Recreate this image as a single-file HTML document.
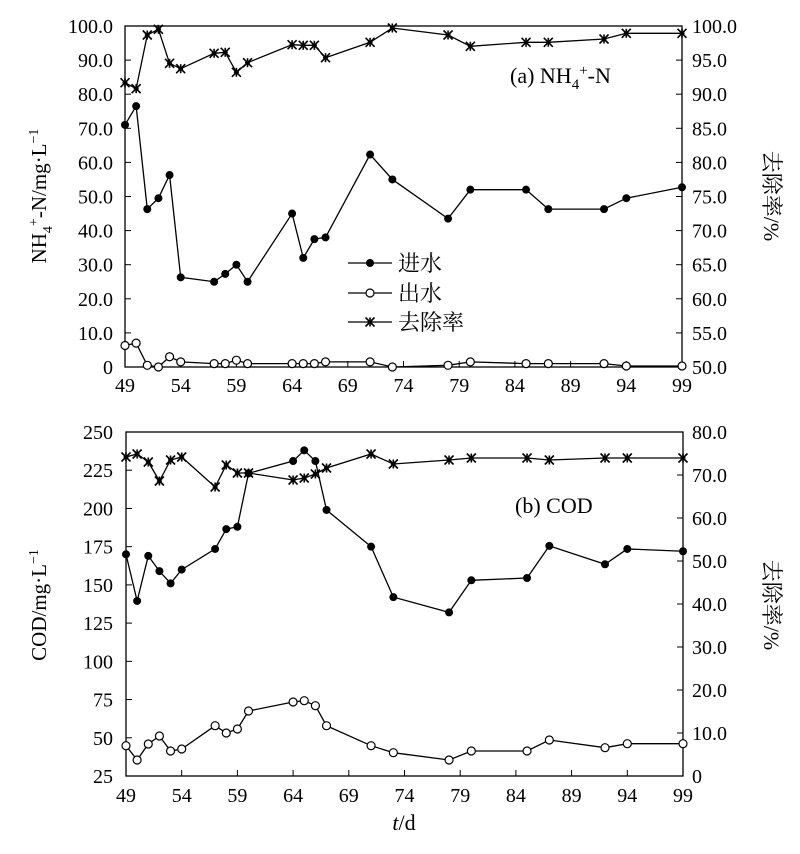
<!DOCTYPE html>
<html><head><meta charset="utf-8"><style>
html,body{margin:0;padding:0;background:#fff;}
</style></head><body>
<svg id="s" width="800" height="849" xmlns="http://www.w3.org/2000/svg" font-family="'Liberation Serif','Times New Roman','Noto Serif CJK SC',serif" style="font-family:'Liberation Serif','Times New Roman','Noto Serif CJK SC',serif"></svg>
<script>
const S=document.getElementById('s');let h='';
const days=[49,50,51,52,53,54,57,58,59,60,64,65,66,67,71,73,78,80,85,87,92,94,99];
function X(d,x0,x1){return x0+(x1-x0)*(d-49)/50;}
function poly(pts){return '<polyline fill="none" stroke="#000" stroke-width="1.3" points="'+pts.map(p=>p.join(',')).join(' ')+'"/>';}
function dot(x,y){return '<circle cx="'+x+'" cy="'+y+'" r="4" fill="#000"/>';}
function odot(x,y){return '<circle cx="'+x+'" cy="'+y+'" r="4" fill="#fff" stroke="#000" stroke-width="1.2"/>';}
function star(x,y){let r=4.5;return '<g stroke="#000" stroke-width="1.6"><line x1="'+(x-r)+'" y1="'+(y-r)+'" x2="'+(x+r)+'" y2="'+(y+r)+'"/><line x1="'+(x-r)+'" y1="'+(y+r)+'" x2="'+(x+r)+'" y2="'+(y-r)+'"/><line x1="'+(x-2.5)+'" y1="'+y+'" x2="'+(x+2.5)+'" y2="'+y+'"/><line x1="'+x+'" y1="'+(y-r)+'" x2="'+x+'" y2="'+(y+r)+'"/></g>';}
function series(xs,ys,mk){let pts=xs.map((x,i)=>[x,ys[i]]);let s=poly(pts);pts.forEach(p=>{s+=mk(p[0],p[1]);});return s;}
const F=' font-family="Liberation Serif, Times New Roman, Noto Serif CJK SC, serif"';
function T(x,y,sz,txt,extra){return '<text x="'+x+'" y="'+y+'" font-size="'+sz+'"'+F+(extra||'')+'>'+txt+'</text>';}
{const x0=125,x1=682,yt=26,yb=367;
h+='<rect x="'+x0+'" y="'+yt+'" width="'+(x1-x0)+'" height="'+(yb-yt)+'" fill="none" stroke="#000" stroke-width="1.3"/>';
for(let i=0;i<=10;i++){let y=yb-(yb-yt)*i/10;h+='<line x1="'+x0+'" y1="'+y+'" x2="'+(x0+6)+'" y2="'+y+'" stroke="#000"/><line x1="'+x1+'" y1="'+y+'" x2="'+(x1-6)+'" y2="'+y+'" stroke="#000"/>';
h+=T(113,y+7,20,(i==0?'0':(i*10).toFixed(1)),' text-anchor="end"');
h+=T(692,y+7,20,(50+i*5).toFixed(1));}
for(let d=49;d<=99;d+=5){let x=X(d,x0,x1);h+='<line x1="'+x+'" y1="'+yb+'" x2="'+x+'" y2="'+(yb-6)+'" stroke="#000"/>'+T(x,yb+25,20,d,' text-anchor="middle"');}
const xs=days.map(d=>X(d,x0,x1));const Y=v=>yb-(yb-yt)*v/100;
const inf=[71,76.5,46.3,49.5,56.3,26.3,25,27.3,30,25,45,32,37.5,38,62.3,55,43.5,52,52,46.3,46.3,49.5,52.7];
const eff=[6.3,7,0.5,0,3,1.5,1,1,2,1,1,1,1,1.5,1.5,0,0.5,1.5,1,1,1,0.3,0.3];
const rem=[82.7,88.7,35,29.3,63.3,68.7,53.3,52.3,72.3,62.7,44.7,45.3,45.3,57.7,42.3,28,35,46.3,42.3,42.3,39,33.3,33.3];
h+=series(xs,inf.map(Y),dot);h+=series(xs,eff.map(Y),odot);h+=series(xs,rem,star);
h+='<text x="510" y="83" font-size="22"'+F+'>(a)  NH<tspan font-size="15" dy="6">4</tspan><tspan font-size="15" dy="-14">+</tspan><tspan dy="8">-N</tspan></text>';
const L=[[263,'进水',dot],[293,'出水',odot],[322,'去除率',star]];
L.forEach(l=>{h+='<line x1="348" y1="'+l[0]+'" x2="392" y2="'+l[0]+'" stroke="#000" stroke-width="1.3"/>'+l[2](370,l[0])+T(398,l[0]+8,22,l[1]);});
h+='<text transform="translate(46,196) rotate(-90)" font-size="21" text-anchor="middle"'+F+'>NH<tspan font-size="14" dy="6">4</tspan><tspan font-size="14" dy="-14">+</tspan><tspan dy="8">-N/mg·L</tspan><tspan font-size="14" dy="-8">−1</tspan></text>';
h+='<text transform="translate(764,196) rotate(90)" font-size="22" text-anchor="middle"'+F+'>去除率/%</text>';}
{const x0=126,x1=683,yt=432,yb=776;
h+='<rect x="'+x0+'" y="'+yt+'" width="'+(x1-x0)+'" height="'+(yb-yt)+'" fill="none" stroke="#000" stroke-width="1.3"/>';
for(let i=0;i<=9;i++){let y=yb-(yb-yt)*i/9;h+='<line x1="'+x0+'" y1="'+y+'" x2="'+(x0+6)+'" y2="'+y+'" stroke="#000"/>'+T(113,y+7,20,25+i*25,' text-anchor="end"');}
for(let i=0;i<=8;i++){let y=yb-(yb-yt)*i/8;h+='<line x1="'+x1+'" y1="'+y+'" x2="'+(x1-6)+'" y2="'+y+'" stroke="#000"/>'+T(692,y+7,20,(i==0?'0':(i*10).toFixed(1)));}
for(let d=49;d<=99;d+=5){let x=X(d,x0,x1);h+='<line x1="'+x+'" y1="'+yb+'" x2="'+x+'" y2="'+(yb-6)+'" stroke="#000"/>'+T(x,yb+26,20,d,' text-anchor="middle"');}
const xs=days.map(d=>X(d,x0,x1));const Y=v=>yb-(yb-yt)*(v-25)/225;
const inf=[170,139.5,169,159,151,160,173.5,186.5,188,223,231,238,231,199,175,142,132,153,154.5,175.5,163.5,173.5,172];
const eff=[745.7,760,744,736,751,749,725.7,733,729,711,702,700.7,705.7,725.7,745.7,752.7,760,751,751,740,747.7,743.7,743.7];
const rem=[457,454,462,481,460,457,487,465,473,473,480,478,474,468,454,464,460,458,458,460,458,458,458];
h+=series(xs,inf.map(Y),dot);h+=series(xs,eff,odot);h+=series(xs,rem,star);
h+=T(515,513,22,'(b)  COD');
h+='<text transform="translate(46,605) rotate(-90)" font-size="21" text-anchor="middle"'+F+'>COD/mg·L<tspan font-size="14" dy="-8">−1</tspan></text>';
h+='<text transform="translate(764,605) rotate(90)" font-size="22" text-anchor="middle"'+F+'>去除率/%</text>';
h+='<text x="404" y="830" font-size="22" text-anchor="middle"'+F+'><tspan font-style="italic">t</tspan>/d</text>';}
S.innerHTML=h;
</script>
</body></html>
